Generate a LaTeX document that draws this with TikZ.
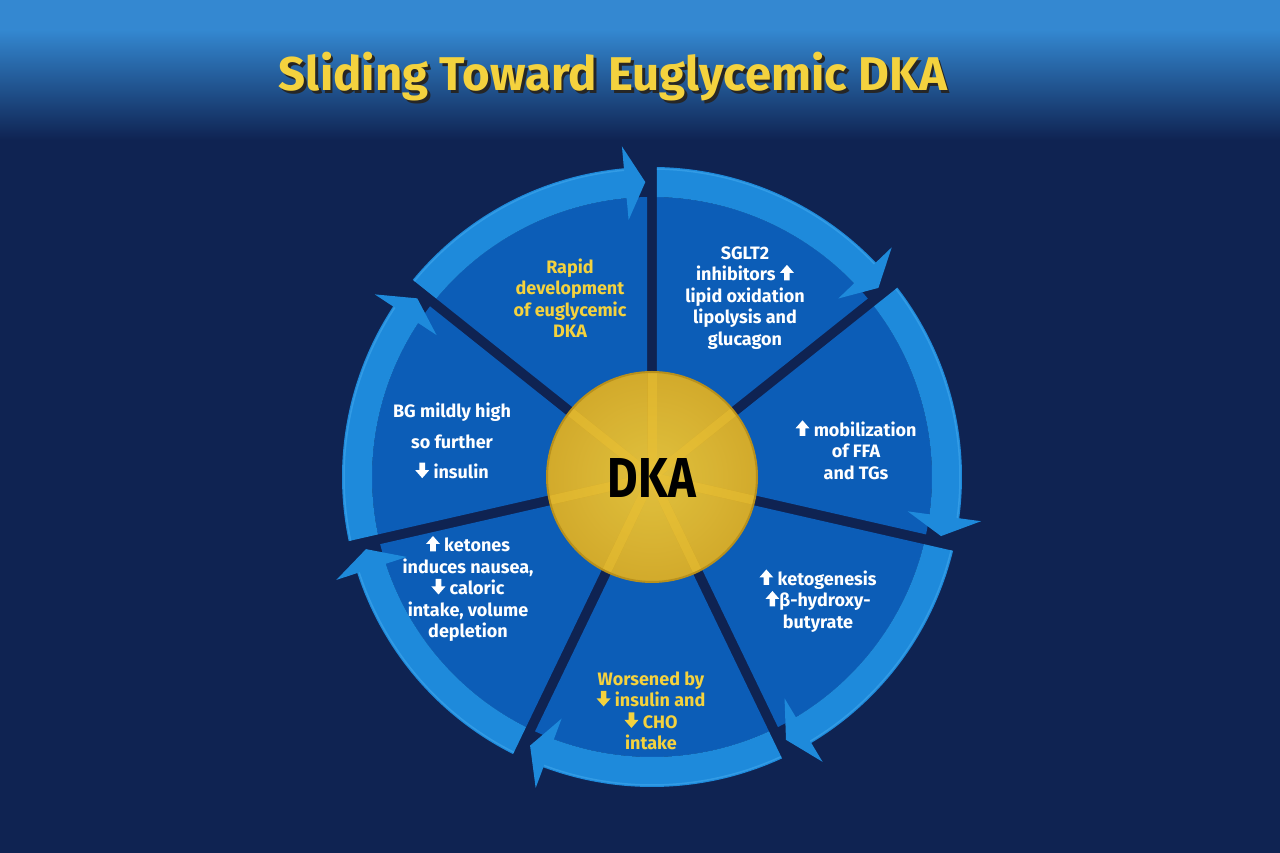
\documentclass[tikz,border=0pt]{standalone}
\usepackage{fontspec}
\setmainfont{Fira Sans}
\usetikzlibrary{calc}
\definecolor{navy}{HTML}{0F2352}
\definecolor{topblue}{HTML}{3488D1}
\definecolor{wedgecol}{HTML}{0C5DB7}
\definecolor{bandcol}{HTML}{1E8ADB}
\definecolor{bandhi}{HTML}{3BA3EA}
\definecolor{goldin}{HTML}{EDC638}
\definecolor{goldout}{HTML}{DDAF24}
\definecolor{goldedge}{HTML}{B8901C}
\definecolor{ylw}{HTML}{F4D23E}
\newcommand{\UA}{\tikz[baseline=-0.5pt,x=1pt,y=1pt]\fill (4.2,0) -- (9.8,0) -- (9.8,7.5) -- (14,7.5) -- (7,15.5) -- (0,7.5) -- (4.2,7.5) -- cycle;}
\newcommand{\DA}{\tikz[baseline=-0.5pt,x=1pt,y=1pt]\fill (4.2,15.5) -- (9.8,15.5) -- (9.8,8) -- (14,8) -- (7,0) -- (0,8) -- (4.2,8) -- cycle;}
\newcommand{\titletext}{\bfseries Sliding Toward Euglycemic DKA}
\tikzset{
  seglabel/.style={text=white, align=center, font=\bfseries\fontsize{18}{21.5}\selectfont},
  ylabel/.style={seglabel, text=ylw},
  wedge/.style={fill=wedgecol},
  band/.style={fill=bandcol},
}
\begin{document}
\begin{tikzpicture}[x=1pt,y=1pt]
\useasboundingbox (0,0) rectangle (1280,853);
% background
\fill[navy] (0,0) rectangle (1280,853);
\fill[topblue] (0,823) rectangle (1280,853);
\shade[top color=topblue, bottom color=navy] (0,713) rectangle (1280,823.5);
\coordinate (C) at (652,376);
\begin{scope}[shift={(652,376)}]
\foreach \k in {0,...,6}{
  \pgfmathsetmacro{\s}{90-\k*360/7}
  \pgfmathsetmacro{\e}{\s-360/7}
  \pgfmathsetmacro{\m}{\s-180/7}
  \pgfmathsetmacro{\sa}{\s-1.02}
  \pgfmathsetmacro{\ea}{\e+1.02}
  \pgfmathsetmacro{\sb}{\s-0.92}
  \pgfmathsetmacro{\eb}{\e+5.2}
  \pgfmathsetmacro{\et}{\e+1.3}
  \fill[wedge] (\m:11.5pt) -- (\sa:280pt) arc[start angle=\sa, end angle=\ea, radius=280pt] -- cycle;
  \fill[band] (\sb:310pt) arc[start angle=\sb, end angle=\eb, radius=310pt]
     -- (\eb:332pt) -- (\et:295pt) -- (\eb:258pt) -- (\eb:280pt)
     arc[start angle=\eb, end angle=\sa, radius=280pt] -- cycle;
  \draw[bandhi, line width=1.5pt, opacity=0.7] (\sb:308pt) arc[start angle=\sb, end angle=\eb, radius=308pt];
}
% centre circle
\shade[inner color=goldin, outer color=goldout, opacity=0.95] (0,0) circle[radius=105pt];
\begin{scope}
\clip (0,0) circle[radius=104pt];
\foreach \k in {0,...,6}{
  \draw[goldin, line width=9pt, opacity=0.45] (0,0) -- (90-\k*360/7:110pt);
}
\end{scope}
\draw[goldedge, line width=2pt] (0,0) circle[radius=105pt];
\end{scope}
\node (dka) at (652,375) {\resizebox{88pt}{39pt}{\bfseries DKA}};
% labels
\node[ylabel] (rapid) at (570,555) {Rapid\\development\\of euglycemic\\DKA};
\node[seglabel] (sglt) at (745,555) {SGLT2\\inhibitors \UA\\lipid oxidation\\lipolysis and\\glucagon};
\node[seglabel] (mob) at (856,403) {\UA\ mobilization\\of FFA\\and TGs};
\node[seglabel] (keto) at (818,252) {\UA\ ketogenesis\\\UA β-hydroxy-\\butyrate};
\node[ylabel] (worse) at (651,142) {Worsened by\\\DA\ insulin and\\\DA\ CHO\\intake};
\node[seglabel] (ket) at (468,264) {\UA\ ketones\\induces nausea,\\\DA\ caloric\\intake, volume\\depletion};
\node[seglabel, font=\bfseries\fontsize{18}{30.5}\selectfont] (bg) at (452,412) {BG mildly high\\so further\\\DA\ insulin};
% title with drop shadow in one node
\node[text=ylw] (title) at (613,775) {\resizebox{668pt}{!}{\makebox[0pt][l]{\raisebox{-0.6pt}{\hspace{0.6pt}\textcolor{black!85}{\titletext}}}\titletext}};
\end{tikzpicture}
\end{document}
